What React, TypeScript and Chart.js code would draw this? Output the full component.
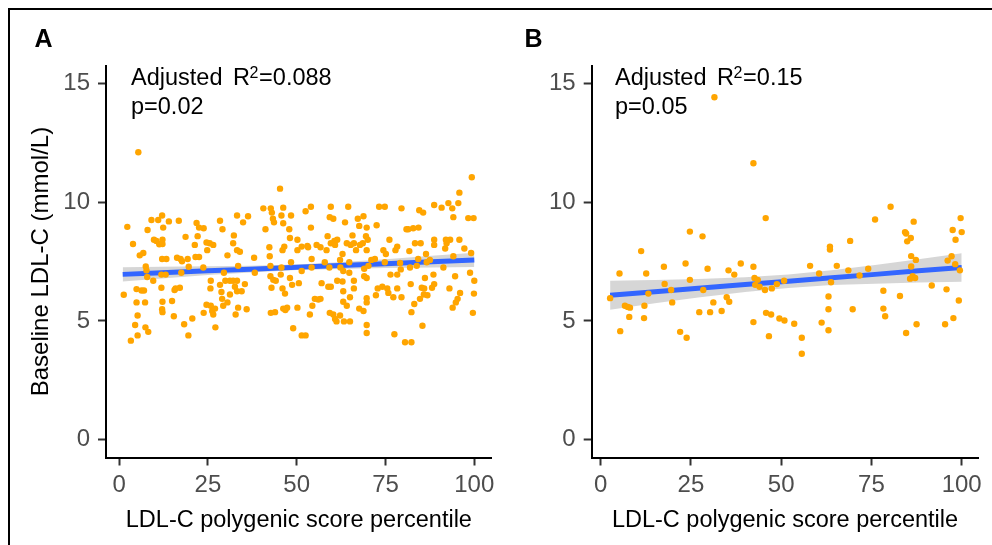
import React, { useEffect, useRef } from "react";
import { Chart, registerables } from "chart.js";

Chart.register(...registerables);

const FONT = "'Liberation Sans', Arial, Helvetica, sans-serif";

// ---------- tick labels ----------
const xTicks = [0, 25, 50, 75, 100];
const yTicks = [0, 5, 10, 15];
const xTitle = "LDL-C polygenic score percentile";
const yTitle = "Baseline LDL-C (mmol/L)";

// ---------- panel A : points ----------
const pctA = [
  1.3, 2.3, 3.3, 3.9, 4.9, 4.9, 5.2, 4.5, 5.2, 5.4, 5.8, 6.8, 6.3, 7.0, 7.3, 7.5, 7.7, 7.9, 7.4, 8.2,
  8.0, 9.1, 9.6, 9.8, 10.5, 11.3, 11.0, 12.1, 12.4, 12.2, 12.2, 12.1, 11.9, 11.9, 12.2, 12.1, 12.2, 13.1, 13.3, 14.0,
  14.9, 15.4, 15.6, 15.9, 16.8, 17.1, 16.3, 17.3, 17.7, 17.5, 18.3, 18.7, 19.3, 19.5, 19.6, 20.6, 21.3, 21.8, 22.1, 22.5,
  23.8, 21.5, 22.5, 23.7, 23.8, 24.6, 24.8, 24.6, 25.5, 26.5, 25.7, 25.8, 25.8, 26.2, 26.5, 27.0, 27.1, 28.4, 29.1, 28.4,
  28.8, 29.0, 29.3, 29.5, 29.9, 30.5, 30.5, 31.2, 31.2, 32.1, 32.3, 32.1, 32.6, 32.8, 33.2, 33.2, 33.5, 33.2, 33.2, 33.5,
  34.0, 34.5, 34.9, 35.4, 35.9, 36.3, 38.0, 38.2, 40.6, 41.2, 42.3, 42.7, 43.0, 43.3, 43.6, 42.4, 42.6, 42.6, 42.9, 43.4,
  44.1, 42.7, 43.9, 45.3, 46.2, 45.7, 46.2, 46.0, 46.5, 45.7, 45.5, 46.0, 46.7, 46.2, 46.8, 47.3, 47.9, 48.4, 48.1, 48.4,
  48.1, 48.7, 49.0, 50.2, 50.2, 50.2, 50.6, 51.4, 51.4, 51.4, 52.5, 52.5, 53.0, 53.2, 53.7, 54.0, 54.0, 54.2, 54.2, 54.4,
  55.1, 55.6, 56.1, 56.7, 56.7, 57.0, 57.9, 58.4, 58.7, 58.9, 59.2, 59.6, 59.3, 59.6, 60.3, 60.6, 60.8, 59.6, 59.3, 60.3,
  60.8, 61.2, 61.4, 61.4, 62.2, 62.2, 62.3, 62.9, 63.1, 62.9, 63.1, 63.1, 63.3, 64.1, 64.5, 63.6, 64.1, 64.8, 64.8, 65.0,
  65.0, 65.2, 65.7, 66.1, 66.1, 66.1, 66.7, 67.2, 67.6, 67.8, 68.6, 68.8, 67.6, 68.8, 69.0, 69.0, 69.5, 69.7, 69.7, 69.7,
  69.7, 69.7, 69.7, 69.7, 70.0, 70.2, 71.0, 72.0, 72.3, 72.5, 72.8, 73.2, 74.8, 74.1, 74.4, 74.8, 75.1, 75.5, 75.8, 76.1,
  76.4, 77.2, 77.5, 77.8, 78.3, 78.3, 78.3, 79.1, 79.3, 79.5, 79.5, 80.5, 80.9, 81.4, 81.7, 81.9, 82.1, 82.3, 82.3, 82.8,
  83.1, 83.3, 83.8, 84.2, 84.3, 84.5, 84.7, 84.9, 85.2, 85.4, 85.6, 85.9, 85.8, 86.1, 86.4, 86.6, 86.8, 87.5, 88.1, 88.5,
  88.7, 88.7, 88.7, 88.7, 90.8, 91.3, 91.8, 92.0, 92.2, 92.7, 93.0, 93.2, 93.8, 93.9, 94.1, 94.1, 94.6, 94.8, 95.3, 95.5,
  95.8, 95.8, 96.0, 97.2, 98.3, 98.8, 99.3, 99.1, 99.8, 99.6, 100, 99.9,
];
const ldlA = [
  6.1, 8.96, 4.17, 8.24, 6.34, 5.78, 5.23, 4.83, 4.39, 12.1, 7.76, 7.86, 6.28, 6.28, 5.78, 7.29, 7.13, 6.85, 4.73, 4.54,
  8.83, 9.25, 6.69, 8.42, 8.37, 8.23, 9.25, 9.44, 8.93, 8.42, 8.24, 7.61, 6.95, 6.4, 5.81, 5.49, 5.37, 6.95, 7.61, 9.19,
  5.84, 5.2, 6.3, 6.37, 9.22, 6.4, 7.66, 7.61, 7.51, 7.03, 4.86, 8.54, 7.61, 4.39, 7.28, 5.1, 8.2, 9.12, 8.57, 8.93,
  8.9, 7.69, 7.69, 7.25, 5.34, 5.68, 7.98, 8.3, 8.27, 8.2, 6.37, 6.69, 5.64, 5.42, 5.27, 5.52, 4.73, 9.22, 8.86, 6.52,
  6.22, 5.93, 5.64, 7.03, 6.69, 7.76, 5.78, 6.11, 6.69, 8.27, 8.6, 6.69, 6.44, 5.27, 9.44, 7.98, 7.32, 6.69, 6.25, 5.56,
  7.91, 6.25, 9.15, 6.55, 5.49, 9.41, 7.66, 7.03, 9.74, 8.86, 8.1, 9.74, 9.56, 9.3, 9.15, 7.72, 7.32, 6.88, 6.4, 6.73,
  6.69, 5.34, 5.37, 10.57, 9.77, 9.44, 9.11, 7.98, 8.13, 7.25, 6.95, 6.37, 6.15, 5.52, 5.46, 5.56, 8.86, 9.44, 8.49, 7.47,
  6.81, 6.52, 4.69, 8.42, 7.98, 5.56, 6.59, 4.39, 8.13, 7.1, 4.39, 9.62, 8.16, 8.1, 5.27, 9.81, 8.93, 7.61, 7.25, 5.64,
  5.93, 8.2, 5.9, 5.93, 8.1, 6.59, 7.47, 7.98, 8.57, 6.44, 7.25, 9.81, 9.37, 8.27, 9.3, 8.37, 8.2, 6.44, 5.34, 5.27,
  5.08, 4.98, 8.42, 6.69, 5.23, 7.57, 7.25, 7.82, 7.1, 6.66, 6.25, 5.81, 4.98, 5.64, 9.81, 9.15, 8.27, 7.47, 7.03, 4.98,
  6.0, 8.2, 8.6, 8.27, 6.69, 6.37, 7.98, 9.3, 9.0, 8.2, 8.27, 9.41, 5.52, 5.42, 6.88, 7.2, 8.57, 8.93, 7.98, 6.81,
  5.96, 5.78, 4.83, 4.49, 8.42, 7.32, 7.57, 7.61, 6.08, 9.03, 6.37, 9.81, 9.81, 6.44, 7.98, 7.47, 7.82, 6.37, 6.18, 8.42,
  6.95, 6.0, 4.44, 7.98, 8.13, 6.37, 6.95, 7.44, 7.17, 9.74, 6.0, 4.1, 8.86, 8.86, 7.94, 7.25, 6.55, 4.1, 5.37, 8.9,
  5.71, 8.27, 7.32, 7.61, 8.93, 9.66, 5.93, 8.27, 6.4, 4.8, 9.56, 6.37, 6.11, 6.81, 7.82, 7.47, 6.08, 7.57, 6.4, 6.95,
  6.55, 8.42, 8.2, 9.88, 9.77, 7.25, 8.05, 8.42, 8.27, 9.96, 6.37, 8.42, 9.74, 5.56, 9.37, 7.72, 6.88, 5.78, 5.93, 9.96,
  10.4, 8.42, 6.18, 8.05, 9.33, 7.03, 11.05, 7.86, 9.33, 5.34, 6.69, 6.15,
];

// ---------- panel A : fitted line and 95% band ----------
const fitPctA = [1, 12, 25, 37, 50, 62, 75, 88, 100];
const fitA = [6.96, 7.03, 7.11, 7.18, 7.26, 7.33, 7.41, 7.49, 7.57];
const lowA = [6.66, 6.79, 6.93, 7.04, 7.14, 7.19, 7.23, 7.25, 7.27];
const highA = [7.26, 7.28, 7.3, 7.32, 7.38, 7.47, 7.6, 7.74, 7.87];

// ---------- panel B : points ----------
const pctB = [
  2.6, 5.2, 5.4, 6.7, 7.5, 7.9, 8.1, 11.2, 12.1, 12.0, 12.6, 13.2, 17.5, 17.7, 19.5, 19.8, 22.0, 23.5, 23.8, 24.7,
  24.7, 27.3, 28.2, 28.4, 29.6, 30.3, 31.2, 31.5, 33.5, 34.9, 35.4, 35.6, 37.0, 38.8, 42.3, 42.3, 42.3, 42.6, 42.8, 43.5,
  44.0, 45.5, 45.7, 45.8, 46.6, 47.2, 47.4, 48.8, 49.5, 50.8, 50.9, 53.6, 55.7, 55.7, 58.0, 60.5, 61.2, 63.1, 63.1, 63.1,
  63.5, 63.5, 63.8, 65.4, 68.6, 69.1, 69.8, 71.7, 74.1, 76.0, 78.3, 78.3, 78.8, 80.3, 82.9, 84.3, 84.6, 84.6, 84.9, 85.9,
  86.0, 86.0, 85.7, 86.4, 86.7, 87.1, 87.3, 87.5, 91.7, 95.4, 95.8, 96.1, 97.2, 97.5, 97.7, 98.3, 98.2, 99.2, 99.5, 99.7,
  100.0,
];
const ldlB = [
  5.96, 7.0, 4.57, 5.64, 5.59, 5.17, 5.56, 7.94, 5.64, 5.12, 7.0, 6.15, 7.28, 6.56, 6.3, 5.78, 4.54, 7.42, 4.29, 8.76,
  6.73, 5.37, 8.56, 6.3, 7.2, 5.37, 5.78, 14.42, 5.42, 6.0, 7.13, 5.81, 6.95, 7.42, 11.64, 4.95, 7.28, 6.81, 6.52, 6.73,
  6.44, 6.3, 9.33, 5.34, 4.36, 5.27, 6.37, 6.55, 5.1, 6.69, 5.02, 4.88, 4.29, 3.62, 7.32, 7.0, 4.93, 6.03, 5.49, 4.61,
  8.13, 8.01, 6.63, 7.32, 7.13, 8.37, 5.49, 6.91, 7.2, 9.27, 6.27, 5.52, 5.2, 9.81, 6.05, 8.74, 8.68, 4.49, 8.35, 8.49,
  7.73, 7.29, 6.78, 6.88, 9.18, 6.81, 7.57, 4.86, 6.49, 4.86, 6.33, 7.54, 7.72, 8.83, 5.12, 8.42, 7.39, 5.86, 7.13, 9.33,
  8.74,
];

// ---------- panel B : fitted line and 95% band ----------
const fitPctB = [2.6, 15, 27, 40, 52, 64, 76, 88, 100];
const fitB = [6.08, 6.23, 6.38, 6.53, 6.67, 6.82, 6.96, 7.11, 7.25];
const lowB = [5.47, 5.74, 5.99, 6.22, 6.39, 6.51, 6.57, 6.62, 6.65];
const highB = [6.69, 6.72, 6.77, 6.84, 6.95, 7.13, 7.35, 7.6, 7.85];

// ---------- annotations ----------
const panelLabels = ["A", "B"];
const r2Values = ["0.088", "0.15"];
const pValues = ["p=0.02", "p=0.05"];

type PanelCfg = {
  left: number;
  width: number;
  yAxisWidth: number;
  padRight: number;
  xMin: number;
  xMax: number;
  pct: number[];
  ldl: number[];
  fitPct: number[];
  fit: number[];
  low: number[];
  high: number[];
  label: string;
  r2: string;
  p: string;
  showYTitle: boolean;
};

const H = 545;
const PLOT_TOP = 65.6;
const X_AXIS_H = 87.5;

function Panel({ cfg }: { cfg: PanelCfg }) {
  const ref = useRef<HTMLCanvasElement | null>(null);

  useEffect(() => {
    if (!ref.current) return;
    const off = cfg.left;
    const textPlugin = {
      id: "panelText",
      afterDraw(chart: any) {
        const { ctx, chartArea } = chart;
        ctx.save();
        ctx.fillStyle = "#000";
        ctx.textBaseline = "alphabetic";
        ctx.textAlign = "left";
        // panel letter
        ctx.font = `bold 25px ${FONT}`;
        ctx.fillText(cfg.label, (cfg.label === "A" ? 34.5 : 524.5) - off, 47.2);
        // statistics annotation
        const fs = 23.5;
        const ax = chartArea.left + (cfg.label === "A" ? 25 : 23.3);
        let x = ax;
        ctx.font = `${fs}px ${FONT}`;
        ctx.fillText("Adjusted", x, 85.2);
        x += ctx.measureText("Adjusted").width + 0.45 * fs;
        ctx.fillText("R", x, 85.2);
        x += ctx.measureText("R").width - 0.4;
        ctx.font = `16px ${FONT}`;
        ctx.fillText("2", x, 78.4);
        x += ctx.measureText("2").width + 0.6;
        ctx.font = `${fs}px ${FONT}`;
        ctx.fillText("=" + cfg.r2, x, 85.2);
        ctx.fillText(cfg.p, ax, 114);
        // x title
        ctx.textAlign = "center";
        ctx.font = `23.5px ${FONT}`;
        ctx.fillText(xTitle, (chartArea.left + chartArea.right) / 2, 526.6);
        // y title
        if (cfg.showYTitle) {
          ctx.font = `24px ${FONT}`;
          ctx.translate(48, (chartArea.top + chartArea.bottom) / 2);
          ctx.rotate(-Math.PI / 2);
          ctx.fillText(yTitle, 0, 0);
        }
        ctx.restore();
      },
    };

    const chart = new Chart(ref.current, {
      type: "scatter",
      data: {
        datasets: [
          {
            label: "low",
            data: cfg.fitPct.map((x, i) => ({ x, y: cfg.low[i] })),
            showLine: true,
            pointRadius: 0,
            borderColor: "rgba(0,0,0,0)",
            borderWidth: 1,
            fill: false,
            order: 3,
          },
          {
            label: "high",
            data: cfg.fitPct.map((x, i) => ({ x, y: cfg.high[i] })),
            showLine: true,
            pointRadius: 0,
            borderColor: "rgba(0,0,0,0)",
            borderWidth: 1,
            backgroundColor: "rgba(153,153,153,0.4)",
            fill: "-1",
            order: 2,
          },
          {
            label: "fit",
            data: cfg.fitPct.map((x, i) => ({ x, y: cfg.fit[i] })),
            showLine: true,
            pointRadius: 0,
            borderColor: "#3366FF",
            borderWidth: 5,
            fill: false,
            order: 1,
          },
          {
            label: "points",
            data: cfg.pct.map((x, i) => ({ x, y: cfg.ldl[i] })),
            pointRadius: 3.2,
            pointBorderWidth: 0,
            backgroundColor: "#FFA500",
            borderColor: "#FFA500",
            order: 0,
          },
        ],
      } as any,
      options: {
        animation: false,
        responsive: false,
        maintainAspectRatio: false,
        events: [],
        layout: {
          autoPadding: false,
          padding: { left: 0, top: PLOT_TOP, right: cfg.padRight, bottom: 0 },
        } as any,
        plugins: {
          legend: { display: false },
          tooltip: { enabled: false },
          title: { display: false },
        },
        scales: {
          x: {
            type: "linear",
            min: cfg.xMin,
            max: cfg.xMax,
            afterBuildTicks: (s: any) => {
              s.ticks = xTicks.map((v) => ({ value: v }));
            },
            afterFit: (s: any) => {
              s.height = X_AXIS_H;
            },
            grid: {
              display: true,
              drawOnChartArea: false,
              drawTicks: true,
              tickLength: 8,
              tickWidth: 2,
              tickColor: "#333333",
            },
            border: { display: true, color: "#000", width: 2 },
            ticks: {
              color: "#4D4D4D",
              font: { family: FONT, size: 24 },
              padding: 5,
              maxRotation: 0,
              autoSkip: false,
              callback: (v: any) => String(v),
            },
          },
          y: {
            type: "linear",
            min: -0.75,
            max: 15.75,
            afterBuildTicks: (s: any) => {
              s.ticks = yTicks.map((v) => ({ value: v }));
            },
            afterFit: (s: any) => {
              s.width = cfg.yAxisWidth;
            },
            grid: {
              display: true,
              drawOnChartArea: false,
              drawTicks: true,
              tickLength: 8,
              tickWidth: 2,
              tickColor: "#333333",
            },
            border: { display: true, color: "#000", width: 2 },
            ticks: {
              color: "#4D4D4D",
              font: { family: FONT, size: 24 },
              padding: 8,
              autoSkip: false,
              callback: (v: any) => String(v),
            },
          },
        },
      } as any,
      plugins: [textPlugin],
    });
    return () => chart.destroy();
  }, [cfg]);

  return (
    <canvas
      ref={ref}
      width={cfg.width}
      height={H}
      style={{ position: "absolute", left: cfg.left, top: 0, width: cfg.width, height: H }}
    />
  );
}

const panelA: PanelCfg = {
  left: 0,
  width: 500,
  yAxisWidth: 106,
  padRight: 8.3,
  xMin: -3.7,
  xMax: 104.9,
  pct: pctA,
  ldl: ldlA,
  fitPct: fitPctA,
  fit: fitA,
  low: lowA,
  high: highA,
  label: panelLabels[0],
  r2: r2Values[0],
  p: pValues[0],
  showYTitle: true,
};

const panelB: PanelCfg = {
  left: 500,
  width: 492,
  yAxisWidth: 91.7,
  padRight: 13.7,
  xMin: -2.5,
  xMax: 104.6,
  pct: pctB,
  ldl: ldlB,
  fitPct: fitPctB,
  fit: fitB,
  low: lowB,
  high: highB,
  label: panelLabels[1],
  r2: r2Values[1],
  p: pValues[1],
  showYTitle: false,
};

export default function App() {
  return (
    <div
      style={{
        position: "fixed",
        left: 0,
        top: 0,
        width: 992,
        height: 545,
        background: "#fff",
        overflow: "hidden",
      }}
    >
      <div
        style={{
          position: "absolute",
          left: 8,
          top: 8,
          width: 1100,
          height: 700,
          borderTop: "2px solid #000",
          borderLeft: "2px solid #000",
          boxSizing: "border-box",
        }}
      />
      <Panel cfg={panelA} />
      <Panel cfg={panelB} />
    </div>
  );
}
